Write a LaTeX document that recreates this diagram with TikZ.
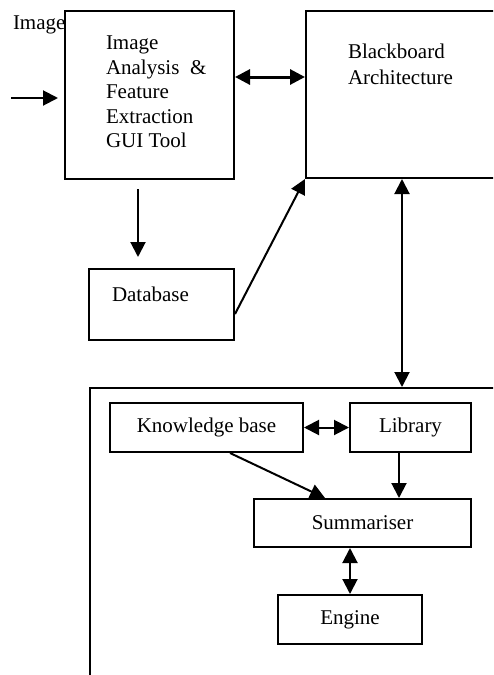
\documentclass[tikz,border=0pt]{standalone}
\usepackage{fontspec}
\setmainfont{Liberation Serif}
\usetikzlibrary{arrows.meta}

\begin{document}
\begin{tikzpicture}
	[x=1pt, y=-1pt, line width=2pt, >={Triangle[length=15pt,width=15pt]},
	every node/.style={font=\fontsize{21pt}{24.5pt}\selectfont, inner sep=0pt},
	box/.style={draw, rectangle},
	txt/.style={align=left, anchor=north west}]
	\useasboundingbox (0,0) rectangle (493,675);
	\clip (0,0) rectangle (493,675);
	\node (ia) [box, minimum width=169pt, minimum height=168pt] at (149.5,95) {};
	\node (iatxt) [txt] at (105,35) {Image\\Analysis~ \&\\Feature\\Extraction\\GUI Tool};
	\node (bb) [box, minimum width=254pt, minimum height=167pt] at (433,94.5) {};
	\node (bbtxt) [txt] at (347,43) {Blackboard\\[1.5pt]Architecture};
	\node (db) [box, minimum width=145pt, minimum height=71pt] at (161.5,304.5) {};
	\node (dbtxt) [txt] at (111,286) {Database};
	\node (imgin) [txt] at (12,15) {Image};
	\node (sys) [box, minimum width=470pt, minimum height=332pt] at (325,554) {};
	\node (kb) [box, minimum width=193pt, minimum height=49pt] at (206.5,427.5) {Knowledge base};
	\node (lib) [box, minimum width=121pt, minimum height=49pt] at (410.5,427.5) {Library};
	\node (sum) [box, minimum width=217pt, minimum height=48pt] at (362.5,523) {Summariser};
	\node (eng) [box, minimum width=144pt, minimum height=49pt] at (350,619.5) {Engine};
	\coordinate (in) at (11,98);
	\coordinate (iabb) at (270,77);
	\draw [->, shorten >=6pt] (in) -- (in -| ia.west);
	\draw [<->, line width=3pt] (ia.east |- iabb) -- (bb.west |- iabb);
	\draw [->, shorten <=9pt, shorten >=11pt] ([xshift=-11.5pt]ia.south) -- ([xshift=-11.5pt]ia.south |- db.north);
	\draw [->] ([yshift=-9.5pt]db.east) -- (bb.south west);
	\draw [<->] ([xshift=-31pt]bb.south) -- ([xshift=-31pt]bb.south |- sys.north);
	\draw [<->] (kb) -- (lib);
	\draw [->] ([xshift=23.5pt]kb.south) -- ([xshift=-37.5pt]sum.north);
	\draw [->] ([xshift=-11.5pt]lib.south) -- ([xshift=-11.5pt]lib.south |- sum.north);
	\draw [<->] (eng.north |- sum.south) -- (eng.north);
\end{tikzpicture}
\end{document}
